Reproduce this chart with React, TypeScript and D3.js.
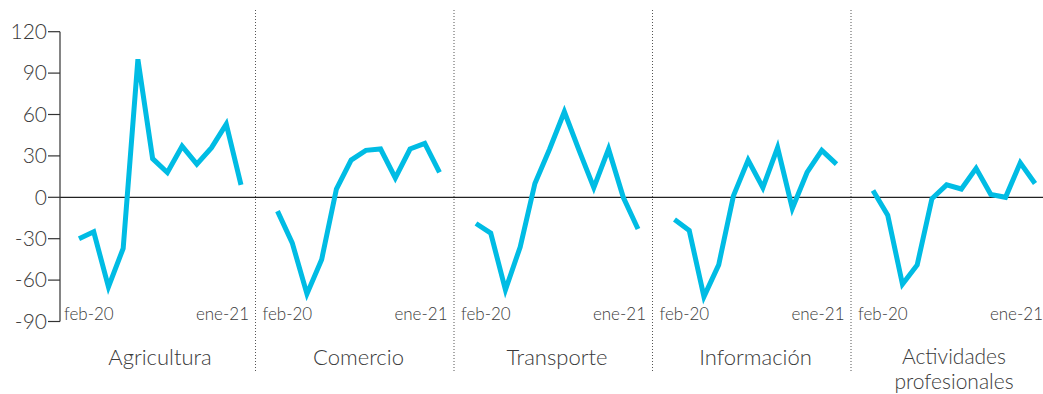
import React from "react";
import * as d3 from "d3";

const months = ["feb-20","mar-20","abr-20","may-20","jun-20","jul-20","ago-20","sep-20","oct-20","nov-20","dic-20","ene-21"];
const categories = ["Agricultura", "Comercio", "Transporte", "Información", "Actividades profesionales"];
const agricultura = [-30, -25, -65, -37, 100, 28, 18, 37, 24, 36, 53, 9];
const comercio = [-10, -33, -70, -45, 6, 27, 34, 35, 14, 35, 39, 18];
const transporte = [-19, -26, -67, -36, 10, 35, 62, 34, 7, 35, 0, -23];
const informacion = [-16, -24, -72, -49, 1, 27, 7, 36, -8, 18, 34, 24];
const actividades = [5, -13, -63, -49, -1, 9, 6, 21, 2, 0, 25, 10];
const seriesList = [agricultura, comercio, transporte, informacion, actividades];
const yTicks = [120, 90, 60, 30, 0, -30, -60, -90];

const W = 1043, H = 394;
const axisX = 60;
const panelW = 198.5;
const FONT = "Lato, 'Open Sans', sans-serif";
const TEXT = "#3a3a3a";
const LINE = "#00bce4";

export default function App() {
  const y = d3.scaleLinear().domain([-90, 120]).range([321.5, 31.7]);
  const panels = categories.map((c, i) => {
    const left = axisX + i * panelW;
    const x = d3.scalePoint<string>().domain(months).range([left + 19, left + 181]);
    const line = d3.line<number>().x((_, j) => x(months[j]) as number).y(d => y(d));
    return { c, i, left, x, path: line(seriesList[i]) as string };
  });
  return (
    <svg width={W} height={H} style={{ position: "absolute", left: 0, top: 0 }}>
      {panels.slice(1).map(p => (
        <line key={"s" + p.i} x1={p.left - 3} x2={p.left - 3} y1={10} y2={373} stroke="#555" strokeWidth={1} strokeDasharray="1,2" />
      ))}
      <line x1={axisX} x2={W} y1={y(0)} y2={y(0)} stroke="#222" strokeWidth={1.2} />
      <line x1={axisX} x2={axisX} y1={y(120)} y2={y(-90)} stroke="#333" strokeWidth={1.2} />
      {yTicks.map(t => (
        <g key={t}>
          <line x1={axisX - 12} x2={axisX} y1={y(t)} y2={y(t)} stroke="#333" strokeWidth={1.2} />
          <text x={axisX - 13} y={y(t)} dy="0.35em" textAnchor="end" fontFamily={FONT} fontWeight={300} fontSize={21} fill={TEXT}>{t}</text>
        </g>
      ))}
      {panels.map(p => (
        <g key={p.c}>
          <path d={p.path} fill="none" stroke={LINE} strokeWidth={5} />
          <text x={p.left + 4} y={320} fontFamily={FONT} fontWeight={300} fontSize={17} fill={TEXT}>{months[0]}</text>
          <text x={p.left + 189} y={320} textAnchor="end" fontFamily={FONT} fontWeight={300} fontSize={17} fill={TEXT}>{months[months.length - 1]}</text>
          {p.c === "Actividades profesionales" ? (
            <text x={p.left + 100} y={364} textAnchor="middle" fontFamily={FONT} fontWeight={300} fontSize={21} fill={TEXT}>
              <tspan x={p.left + 100}>Actividades</tspan>
              <tspan x={p.left + 100} dy={25}>profesionales</tspan>
            </text>
          ) : (
            <text x={p.left + 100} y={365} textAnchor="middle" fontFamily={FONT} fontWeight={300} fontSize={22} fill={TEXT}>{p.c}</text>
          )}
        </g>
      ))}
    </svg>
  );
}
